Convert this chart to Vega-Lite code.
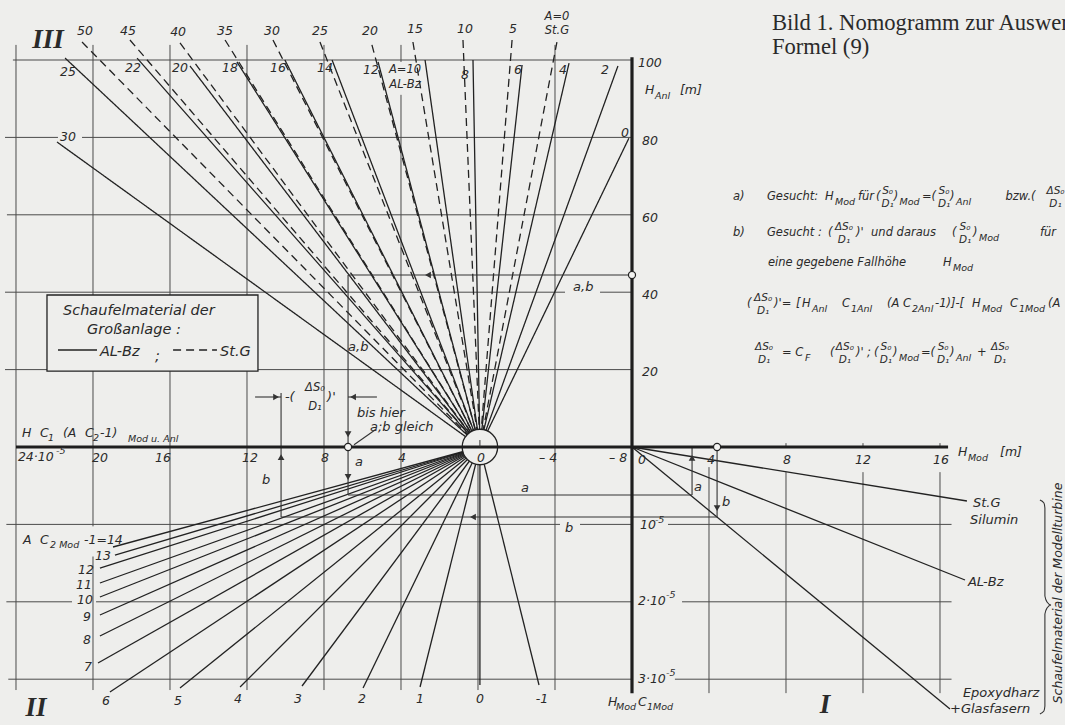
{
"$schema": "https://vega.github.io/schema/vega-lite/v6.json",
"width": 1065, "height": 725, "autosize": {"type": "none"}, "padding": 0,
"background": "#eeeeec",
"config": {"view": {"stroke": null}},
"datasets": {
"grid": [
{"x":-32.16,"x2":0,"y":100,"y2":100},
{"x":-32.57,"x2":-29.82,"y":80,"y2":80},
{"x":-28.57,"x2":0,"y":80,"y2":80},
{"x":-32.47,"x2":0,"y":60,"y2":60},
{"x":-32.57,"x2":-3.48,"y":40,"y2":40},
{"x":-1.66,"x2":0,"y":40,"y2":40},
{"x":-32.57,"x2":0,"y":20,"y2":20},
{"x":-32.5,"x2":-3.74,"y":-20,"y2":-20},
{"x":-2.7,"x2":0,"y":-20,"y2":-20},
{"x":1.87,"x2":16.6,"y":-20,"y2":-20},
{"x":-32.5,"x2":-29.09,"y":-40,"y2":-40},
{"x":-27.84,"x2":0,"y":-40,"y2":-40},
{"x":2.6,"x2":16.6,"y":-40,"y2":-40},
{"x":-32.4,"x2":0,"y":-60,"y2":-60},
{"x":2.23,"x2":16.6,"y":-60,"y2":-60},
{"x":-32,"x2":-32,"y":103.9,"y2":-62.8},
{"x":-28,"x2":-28,"y":103.9,"y2":-20.5},
{"x":-28,"x2":-28,"y":-28.3,"y2":-62.8},
{"x":-24,"x2":-24,"y":103.9,"y2":-62.8},
{"x":-20,"x2":-20,"y":103.9,"y2":-62.8},
{"x":-16,"x2":-16,"y":103.9,"y2":-62.8},
{"x":-12,"x2":-12,"y":103.9,"y2":99.5},
{"x":-12,"x2":-12,"y":91,"y2":-62.8},
{"x":-8,"x2":-8,"y":0,"y2":-62.8},
{"x":-4,"x2":-4,"y":103.9,"y2":-62.8},
{"x":4,"x2":4,"y":-5.2,"y2":-63.6},
{"x":8,"x2":8,"y":1.0,"y2":0},
{"x":8,"x2":8,"y":-6.5,"y2":-63.6},
{"x":12,"x2":12,"y":1.0,"y2":0},
{"x":12,"x2":12,"y":-6.5,"y2":-63.6},
{"x":16,"x2":16,"y":1.0,"y2":0},
{"x":16,"x2":16,"y":-6.5,"y2":-63.6}
],
"upperFan": [
{"A":30,"mat":"AL-Bz","x":-29.87,"y":78.81},
{"A":25,"mat":"AL-Bz","x":-29.45,"y":100.5},
{"A":22,"mat":"AL-Bz","x":-25.71,"y":100.5},
{"A":20,"mat":"AL-Bz","x":-22.96,"y":98.45},
{"A":18,"mat":"AL-Bz","x":-20.52,"y":99.5},
{"A":16,"mat":"AL-Bz","x":-18.03,"y":100},
{"A":14,"mat":"AL-Bz","x":-15.58,"y":100},
{"A":12,"mat":"AL-Bz","x":-13.19,"y":99.5},
{"A":10,"mat":"AL-Bz","x":-10.75,"y":100},
{"A":8,"mat":"AL-Bz","x":-8.26,"y":100},
{"A":6,"mat":"AL-Bz","x":-5.71,"y":98.7},
{"A":4,"mat":"AL-Bz","x":-3.27,"y":99.2},
{"A":2,"mat":"AL-Bz","x":-0.73,"y":98.45},
{"A":0,"mat":"AL-Bz","x":-0.16,"y":79.8},
{"A":50,"mat":"St.G","x":-28.57,"y":104.65},
{"A":45,"mat":"St.G","x":-26.08,"y":105.17},
{"A":40,"mat":"St.G","x":-23.48,"y":104.4},
{"A":35,"mat":"St.G","x":-21.14,"y":105.17},
{"A":30,"mat":"St.G","x":-18.65,"y":105.17},
{"A":25,"mat":"St.G","x":-16.21,"y":104.65},
{"A":20,"mat":"St.G","x":-13.51,"y":103.9},
{"A":15,"mat":"St.G","x":-11.38,"y":104.65},
{"A":10,"mat":"St.G","x":-8.78,"y":105.17},
{"A":5,"mat":"St.G","x":-6.23,"y":105.17},
{"A":0,"mat":"St.G","x":-3.9,"y":104.65}
],
"lowerFan": [
{"k":14,"x":-26.96,"y":-25.84},
{"k":13,"x":-26.86,"y":-27.91},
{"k":12,"x":-27.64,"y":-31.27},
{"k":11,"x":-27.64,"y":-35.14},
{"k":10,"x":-27.64,"y":-38.76},
{"k":9,"x":-27.64,"y":-43.41},
{"k":8,"x":-27.64,"y":-48.84},
{"k":7,"x":-27.74,"y":-55.81},
{"k":6,"x":-27.12,"y":-63.31},
{"k":5,"x":-23.48,"y":-62.27},
{"k":4,"x":-20.36,"y":-62.02},
{"k":3,"x":-17.14,"y":-61.76},
{"k":2,"x":-13.97,"y":-62.27},
{"k":1,"x":-11.01,"y":-62.02},
{"k":0,"x":-7.9,"y":-61.5},
{"k":-1,"x":-4.83,"y":-61.5}
],
"modelLines": [
{"mat":"St.G Silumin","x":17.4,"y":-13.95},
{"mat":"AL-Bz","x":17.3,"y":-34.37},
{"mat":"Epoxydharz +Glasfasern","x":16.52,"y":-67.7}
],
"paths": [
{"x":-14.75,"y":44.44,"x2":0,"y2":44.44},
{"x":-14.75,"y":44.44,"x2":-14.75,"y2":-12.4},
{"x":-14.75,"y":-12.4,"x2":3.12,"y2":-12.4},
{"x":3.12,"y":0,"x2":3.12,"y2":-12.4},
{"x":-18.23,"y":13.95,"x2":-18.23,"y2":-18.09},
{"x":-18.23,"y":-18.09,"x2":4.42,"y2":-18.09},
{"x":4.42,"y":0,"x2":4.42,"y2":-18.09},
{"x":-19.58,"y":12.92,"x2":-18.23,"y2":12.92},
{"x":-14.75,"y":12.92,"x2":-13.25,"y2":12.92},
{"x":-13.35,"y":4.39,"x2":-14.44,"y2":0.6}
],
"axes": [
{"x":-32.0,"y":0,"x2":16.42,"y2":0},
{"x":0,"y":100.7,"x2":0,"y2":-63.6}
],
"box": [{"x":-30.39,"y":39.28,"x2":-19.43,"y2":19.6}],
"legendKey": [
{"mat":"AL-Bz","x":-29.82,"x2":-27.79,"y":25.06,"y2":25.06},
{"mat":"St.G","x":-23.84,"x2":-21.56,"y":25.06,"y2":25.06}
],
"center": [{"x":-7.9,"y":0,"x2":-7.9,"y2":1.8}],
"markers": [{"x":-14.75,"y":0},{"x":0,"y":44.44},{"x":4.42,"y":0}],
"arrows": [
{"x":-10.6,"y":44.44,"d":"left"},
{"x":-14.75,"y":3.3,"d":"down"},
{"x":-14.75,"y":-7.75,"d":"down"},
{"x":-18.23,"y":-2.6,"d":"up"},
{"x":-8.26,"y":-18.09,"d":"left"},
{"x":3.12,"y":-2.8,"d":"up"},
{"x":4.42,"y":-15.8,"d":"down"},
{"x":-18.49,"y":12.92,"d":"right"},
{"x":-14.49,"y":12.92,"d":"left"}
],
"brace": [
{"o":1,"x":21.19,"y":-13.7},
{"o":2,"x":21.4,"y":-14.47},
{"o":3,"x":21.45,"y":-15.76},
{"o":4,"x":21.45,"y":-38.5},
{"o":5,"x":21.56,"y":-40.05},
{"o":6,"x":21.77,"y":-40.83},
{"o":7,"x":21.56,"y":-41.6},
{"o":8,"x":21.45,"y":-43.15},
{"o":9,"x":21.45,"y":-66.93},
{"o":10,"x":21.4,"y":-68.22},
{"o":11,"x":21.19,"y":-68.99}
],
"labels": [
{"t":"50","x":-28.42,"y":107.5,"g":"num"},
{"t":"45","x":-26.18,"y":107.5,"g":"num"},
{"t":"40","x":-23.58,"y":107.2,"g":"num"},
{"t":"35","x":-21.14,"y":107.5,"g":"num"},
{"t":"30","x":-18.7,"y":107.5,"g":"num"},
{"t":"25","x":-16.21,"y":107.5,"g":"num"},
{"t":"20","x":-13.61,"y":107.5,"g":"num"},
{"t":"15","x":-11.27,"y":108.0,"g":"num"},
{"t":"10","x":-8.68,"y":108.0,"g":"num"},
{"t":"5","x":-6.18,"y":108.0,"g":"num"},
{"t":"25","x":-29.3,"y":96.9,"g":"num"},
{"t":"22","x":-25.92,"y":97.9,"g":"num"},
{"t":"20","x":-23.48,"y":97.9,"g":"num"},
{"t":"18","x":-20.88,"y":97.9,"g":"num"},
{"t":"16","x":-18.39,"y":97.9,"g":"num"},
{"t":"14","x":-15.95,"y":97.9,"g":"num"},
{"t":"12","x":-13.56,"y":97.4,"g":"num"},
{"t":"8","x":-8.68,"y":96.1,"g":"num"},
{"t":"6","x":-5.92,"y":97.4,"g":"num"},
{"t":"4","x":-3.58,"y":97.4,"g":"num"},
{"t":"2","x":-1.4,"y":97.4,"g":"num"},
{"t":"0","x":-0.36,"y":81.1,"g":"num"},
{"t":"30","x":-29.3,"y":80.1,"g":"num"},
{"t":"20","x":-27.64,"y":-2.84,"g":"num"},
{"t":"16","x":-24.36,"y":-2.84,"g":"num"},
{"t":"12","x":-19.84,"y":-2.84,"g":"num"},
{"t":"8","x":-15.95,"y":-2.84,"g":"num"},
{"t":"4","x":-11.95,"y":-2.84,"g":"num"},
{"t":"0","x":-7.84,"y":-2.84,"g":"num"},
{"t":"– 4","x":-4.36,"y":-2.84,"g":"num"},
{"t":"– 8","x":-0.72,"y":-2.84,"g":"num"},
{"t":"0","x":0.52,"y":-3.36,"g":"num"},
{"t":"4","x":4.1,"y":-3.36,"g":"num"},
{"t":"8","x":8.05,"y":-3.36,"g":"num"},
{"t":"12","x":12.0,"y":-3.36,"g":"num"},
{"t":"16","x":16.05,"y":-3.36,"g":"num"},
{"t":"13","x":-27.48,"y":-28.17,"g":"num"},
{"t":"12","x":-28.36,"y":-31.78,"g":"num"},
{"t":"11","x":-28.47,"y":-35.66,"g":"num"},
{"t":"10","x":-28.42,"y":-39.53,"g":"num"},
{"t":"9","x":-28.31,"y":-43.93,"g":"num"},
{"t":"8","x":-28.31,"y":-49.87,"g":"num"},
{"t":"7","x":-28.26,"y":-56.85,"g":"num"},
{"t":"6","x":-27.32,"y":-65.6,"g":"num"},
{"t":"5","x":-23.58,"y":-65.6,"g":"num"},
{"t":"4","x":-20.47,"y":-65.1,"g":"num"},
{"t":"3","x":-17.35,"y":-65.1,"g":"num"},
{"t":"2","x":-14.03,"y":-65.1,"g":"num"},
{"t":"1","x":-11.01,"y":-65.1,"g":"num"},
{"t":"0","x":-7.9,"y":-65.1,"g":"num"},
{"t":"-1","x":-4.68,"y":-65.1,"g":"num"},
{"t":"A=0","x":-3.9,"y":111.1,"g":"small"},
{"t":"St.G","x":-3.9,"y":107.4,"g":"small"},
{"t":"A=10","x":-11.79,"y":97.4,"g":"small"},
{"t":"AL-Bz","x":-11.79,"y":93.5,"g":"small"},
{"t":"100","x":0.31,"y":99.2,"g":"numL"},
{"t":"80","x":0.52,"y":79.1,"g":"numL"},
{"t":"60","x":0.52,"y":59.2,"g":"numL"},
{"t":"40","x":0.52,"y":39.3,"g":"numL"},
{"t":"20","x":0.52,"y":19.4,"g":"numL"},
{"t":"H","x":0.68,"y":92.25,"g":"numL"},
{"t":"[m]","x":2.49,"y":92.25,"g":"numL"},
{"t":"H","x":16.94,"y":-1.29,"g":"numL"},
{"t":"[m]","x":19.12,"y":-1.29,"g":"numL"},
{"t":"H","x":-31.69,"y":3.62,"g":"numL"},
{"t":"C","x":-30.75,"y":3.62,"g":"numL"},
{"t":"(A","x":-29.56,"y":3.62,"g":"numL"},
{"t":"C","x":-28.42,"y":3.62,"g":"numL"},
{"t":"-1)","x":-27.64,"y":3.62,"g":"numL"},
{"t":"24·10","x":-31.9,"y":-2.58,"g":"numL"},
{"t":"A","x":-31.64,"y":-24.03,"g":"numL"},
{"t":"C","x":-30.75,"y":-24.03,"g":"numL"},
{"t":"-1=14","x":-28.47,"y":-24.03,"g":"numL"},
{"t":"H","x":-1.25,"y":-65.9,"g":"numL"},
{"t":"C","x":0.31,"y":-65.9,"g":"numL"},
{"t":"10","x":0.42,"y":-20.16,"g":"numL"},
{"t":"2·10","x":0.31,"y":-39.79,"g":"numL"},
{"t":"3·10","x":0.31,"y":-59.95,"g":"numL"},
{"t":"Anl","x":1.19,"y":90.7,"g":"sub"},
{"t":"Mod","x":17.45,"y":-2.84,"g":"sub"},
{"t":"1","x":-30.34,"y":2.33,"g":"sub"},
{"t":"2","x":-28.0,"y":2.33,"g":"sub"},
{"t":"Mod u. Anl","x":-26.18,"y":2.07,"g":"sub"},
{"t":"-5","x":-29.92,"y":-1.03,"g":"sub"},
{"t":"2 Mod","x":-30.23,"y":-25.32,"g":"sub"},
{"t":"Mod","x":-0.83,"y":-67.2,"g":"sub"},
{"t":"1Mod","x":0.78,"y":-67.2,"g":"sub"},
{"t":"-5","x":1.19,"y":-18.86,"g":"sub"},
{"t":"-5","x":1.77,"y":-38.24,"g":"sub"},
{"t":"-5","x":1.77,"y":-58.4,"g":"sub"},
{"t":"St.G","x":17.71,"y":-14.47,"g":"word"},
{"t":"Silumin","x":17.56,"y":-18.86,"g":"word"},
{"t":"AL-Bz","x":17.45,"y":-34.88,"g":"word"},
{"t":"Epoxydharz","x":17.19,"y":-63.57,"g":"word"},
{"t":"+Glasfasern","x":16.52,"y":-67.7,"g":"word"},
{"t":"a,b","x":-3.06,"y":41.34,"g":"word"},
{"t":"a,b","x":-14.75,"y":25.84,"g":"word"},
{"t":"bis hier","x":-14.29,"y":8.79,"g":"word"},
{"t":"a;b  gleich","x":-13.61,"y":5.17,"g":"word"},
{"t":"a","x":-14.39,"y":-3.88,"g":"word"},
{"t":"b","x":-19.22,"y":-8.53,"g":"word"},
{"t":"a","x":-5.77,"y":-10.6,"g":"word"},
{"t":"b","x":-3.48,"y":-20.9,"g":"word"},
{"t":"a","x":3.22,"y":-10.3,"g":"word"},
{"t":"b","x":4.68,"y":-14.2,"g":"word"},
{"t":"-(","x":-18.03,"y":12.92,"g":"word"},
{"t":")'","x":-15.84,"y":12.92,"g":"word"},
{"t":"ΔS₀","x":-16.47,"y":15.25,"g":"dfrac"},
{"t":"D₁","x":-16.47,"y":10.34,"g":"dfrac"},
{"t":"Schaufelmaterial der","x":-29.56,"y":35.14,"g":"legend"},
{"t":"Großanlage :","x":-28.31,"y":30.23,"g":"legend"},
{"t":"AL-Bz","x":-27.64,"y":24.55,"g":"legend"},
{"t":";","x":-24.78,"y":23.26,"g":"legend"},
{"t":"St.G","x":-21.4,"y":24.55,"g":"legend"},
{"t":"Bild 1. Nomogramm zur Auswertung der","x":7.27,"y":109.56,"g":"title"},
{"t":"Formel (9)","x":7.27,"y":103.36,"g":"title"},
{"t":"III","x":-30.34,"y":105.17,"g":"roman"},
{"t":"II","x":-30.96,"y":-67.44,"g":"roman"},
{"t":"I","x":10.03,"y":-66.67,"g":"roman"},
{"t":"Schaufelmaterial der Modellturbine","x":22.13,"y":-37.73,"g":"rot"},
{"t":"a)","x":5.25,"y":64.6,"g":"f"},
{"t":"Gesucht:","x":7.01,"y":64.6,"g":"f"},
{"t":"H","x":10.03,"y":64.6,"g":"f"},
{"t":"für","x":11.74,"y":64.6,"g":"f"},
{"t":"(","x":12.68,"y":64.6,"g":"f"},
{"t":")","x":13.6,"y":64.6,"g":"f"},
{"t":"=(","x":15.06,"y":64.6,"g":"f"},
{"t":")","x":16.52,"y":64.6,"g":"f"},
{"t":"bzw.(","x":19.4,"y":64.6,"g":"f"},
{"t":"b)","x":5.25,"y":55.3,"g":"f"},
{"t":"Gesucht :","x":7.01,"y":55.3,"g":"f"},
{"t":"(","x":10.18,"y":55.3,"g":"f"},
{"t":")'","x":11.64,"y":55.3,"g":"f"},
{"t":"und daraus","x":12.42,"y":55.3,"g":"f"},
{"t":"(","x":16.62,"y":55.3,"g":"f"},
{"t":")","x":17.71,"y":55.3,"g":"f"},
{"t":"für","x":21.19,"y":55.3,"g":"f"},
{"t":"eine gegebene  Fallhöhe","x":7.06,"y":47.55,"g":"f"},
{"t":"H","x":16.16,"y":47.55,"g":"f"},
{"t":"(","x":5.97,"y":36.95,"g":"f"},
{"t":")'=","x":7.38,"y":36.95,"g":"f"},
{"t":"[","x":8.52,"y":36.95,"g":"f"},
{"t":"H","x":8.83,"y":36.95,"g":"f"},
{"t":"C","x":10.91,"y":36.95,"g":"f"},
{"t":"(A C","x":13.25,"y":36.95,"g":"f"},
{"t":"-1)]-[","x":15.74,"y":36.95,"g":"f"},
{"t":"H","x":17.66,"y":36.95,"g":"f"},
{"t":"C","x":19.64,"y":36.95,"g":"f"},
{"t":"(A","x":21.61,"y":36.95,"g":"f"},
{"t":"= C","x":7.79,"y":24.29,"g":"f"},
{"t":"(","x":10.29,"y":24.29,"g":"f"},
{"t":")'","x":11.64,"y":24.29,"g":"f"},
{"t":";","x":12.21,"y":24.29,"g":"f"},
{"t":"(","x":12.57,"y":24.29,"g":"f"},
{"t":")","x":13.56,"y":24.29,"g":"f"},
{"t":"=(","x":15.01,"y":24.29,"g":"f"},
{"t":")","x":16.52,"y":24.29,"g":"f"},
{"t":"+","x":17.92,"y":24.29,"g":"f"},
{"t":"Mod","x":10.55,"y":63.31,"g":"fs"},
{"t":"Mod","x":13.9,"y":63.31,"g":"fs"},
{"t":"Anl","x":16.83,"y":63.31,"g":"fs"},
{"t":"Mod","x":18.03,"y":54.01,"g":"fs"},
{"t":"Mod","x":16.68,"y":46.25,"g":"fs"},
{"t":"Anl","x":9.35,"y":35.66,"g":"fs"},
{"t":"1Anl","x":11.38,"y":35.66,"g":"fs"},
{"t":"2Anl","x":14.55,"y":35.66,"g":"fs"},
{"t":"Mod","x":18.18,"y":35.66,"g":"fs"},
{"t":"1Mod","x":20.1,"y":35.66,"g":"fs"},
{"t":"F","x":8.99,"y":23.0,"g":"fs"},
{"t":"Mod","x":13.87,"y":23.0,"g":"fs"},
{"t":"Anl","x":16.83,"y":23.0,"g":"fs"},
{"t":"S₀","x":13.28,"y":66.15,"g":"fr"},
{"t":"D₁","x":13.28,"y":62.79,"g":"fr"},
{"t":"S₀","x":16.21,"y":66.15,"g":"fr"},
{"t":"D₁","x":16.21,"y":62.79,"g":"fr"},
{"t":"ΔS₀","x":22.0,"y":66.15,"g":"fr"},
{"t":"D₁","x":22.0,"y":62.79,"g":"fr"},
{"t":"ΔS₀","x":11.01,"y":56.85,"g":"fr"},
{"t":"D₁","x":11.01,"y":53.49,"g":"fr"},
{"t":"S₀","x":17.3,"y":56.85,"g":"fr"},
{"t":"D₁","x":17.3,"y":53.49,"g":"fr"},
{"t":"ΔS₀","x":6.81,"y":38.5,"g":"fr"},
{"t":"D₁","x":6.81,"y":35.14,"g":"fr"},
{"t":"ΔS₀","x":6.86,"y":25.84,"g":"fr"},
{"t":"D₁","x":6.86,"y":22.48,"g":"fr"},
{"t":"ΔS₀","x":11.06,"y":25.84,"g":"fr"},
{"t":"D₁","x":11.06,"y":22.48,"g":"fr"},
{"t":"S₀","x":13.19,"y":25.84,"g":"fr"},
{"t":"D₁","x":13.19,"y":22.48,"g":"fr"},
{"t":"S₀","x":16.16,"y":25.84,"g":"fr"},
{"t":"D₁","x":16.16,"y":22.48,"g":"fr"},
{"t":"ΔS₀","x":19.12,"y":25.84,"g":"fr"},
{"t":"D₁","x":19.12,"y":22.48,"g":"fr"}
]
},
"encoding": {
"x": {"field": "x", "type": "quantitative", "scale": {"domain": [-32.831, 22.494], "nice": false, "zero": false}, "axis": null},
"y": {"field": "y", "type": "quantitative", "scale": {"domain": [-71.835, 115.504], "nice": false, "zero": false}, "axis": null}
},
"layer": [
{"data": {"name": "grid"}, "mark": {"type": "rule", "color": "#4a4a4a", "strokeWidth": 1}, "encoding": {"x2": {"field": "x2"}, "y2": {"field": "y2"}}},
{"data": {"name": "upperFan"}, "mark": {"type": "rule", "color": "#222222", "strokeWidth": 1.3},
 "encoding": {"x2": {"datum": -7.9}, "y2": {"datum": 0},
  "strokeDash": {"field": "mat", "type": "nominal", "scale": {"domain": ["AL-Bz", "St.G"], "range": [[1, 0], [8, 5]]}, "legend": null}}},
{"data": {"name": "lowerFan"}, "mark": {"type": "rule", "color": "#222222", "strokeWidth": 1.3}, "encoding": {"x2": {"datum": -7.9}, "y2": {"datum": 0}}},
{"data": {"name": "modelLines"}, "mark": {"type": "rule", "color": "#222222", "strokeWidth": 1.3}, "encoding": {"x2": {"datum": 0}, "y2": {"datum": 0}}},
{"data": {"name": "paths"}, "mark": {"type": "rule", "color": "#333333", "strokeWidth": 1.1}, "encoding": {"x2": {"field": "x2"}, "y2": {"field": "y2"}}},
{"data": {"name": "box"}, "mark": {"type": "rect", "fill": "#eeeeec", "stroke": "#222222", "strokeWidth": 1.3}, "encoding": {"x2": {"field": "x2"}, "y2": {"field": "y2"}}},
{"data": {"name": "legendKey"}, "mark": {"type": "rule", "color": "#222222", "strokeWidth": 1.3},
 "encoding": {"x2": {"field": "x2"}, "y2": {"field": "y2"},
  "strokeDash": {"field": "mat", "type": "nominal", "scale": {"domain": ["AL-Bz", "St.G"], "range": [[1, 0], [8, 5]]}, "legend": null}}},
{"data": {"name": "center"}, "mark": {"type": "point", "shape": "circle", "size": 1257, "filled": true, "fill": "#eeeeec", "stroke": "#222222", "strokeWidth": 1.3, "opacity": 1}},
{"data": {"name": "axes"}, "mark": {"type": "rule", "color": "#1e1e1e", "strokeWidth": 3.2}, "encoding": {"x2": {"field": "x2"}, "y2": {"field": "y2"}}},
{"data": {"name": "center"}, "mark": {"type": "rule", "color": "#333333", "strokeWidth": 1}, "encoding": {"x2": {"field": "x2"}, "y2": {"field": "y2"}}},
{"data": {"name": "markers"}, "mark": {"type": "point", "shape": "circle", "size": 50, "filled": true, "fill": "#f4f4f2", "stroke": "#222222", "strokeWidth": 1.2, "opacity": 1}},
{"data": {"name": "arrows"}, "mark": {"type": "point", "filled": true, "size": 45, "color": "#333333", "opacity": 1},
 "encoding": {"shape": {"field": "d", "type": "nominal", "scale": {"domain": ["left", "right", "up", "down"], "range": ["triangle-left", "triangle-right", "triangle-up", "triangle-down"]}, "legend": null}}},
{"data": {"name": "brace"}, "mark": {"type": "line", "color": "#333333", "strokeWidth": 1.1, "interpolate": "monotone"}, "encoding": {"order": {"field": "o"}}},
{"data": {"name": "labels"}, "transform": [{"filter": "datum.g === 'num'"}], "mark": {"type": "text", "font": "DejaVu Sans", "fontStyle": "italic", "fontSize": 12.5, "align": "center", "baseline": "middle", "color": "#2a2a2a"}, "encoding": {"text": {"field": "t"}}},
{"data": {"name": "labels"}, "transform": [{"filter": "datum.g === 'small'"}], "mark": {"type": "text", "font": "DejaVu Sans", "fontStyle": "italic", "fontSize": 11.5, "align": "center", "baseline": "middle", "color": "#2a2a2a"}, "encoding": {"text": {"field": "t"}}},
{"data": {"name": "labels"}, "transform": [{"filter": "datum.g === 'numL'"}], "mark": {"type": "text", "font": "DejaVu Sans", "fontStyle": "italic", "fontSize": 12.5, "align": "left", "baseline": "middle", "color": "#2a2a2a"}, "encoding": {"text": {"field": "t"}}},
{"data": {"name": "labels"}, "transform": [{"filter": "datum.g === 'sub'"}], "mark": {"type": "text", "font": "DejaVu Sans", "fontStyle": "italic", "fontSize": 9.5, "align": "left", "baseline": "middle", "color": "#2a2a2a"}, "encoding": {"text": {"field": "t"}}},
{"data": {"name": "labels"}, "transform": [{"filter": "datum.g === 'word'"}], "mark": {"type": "text", "font": "DejaVu Sans", "fontStyle": "italic", "fontSize": 13, "align": "left", "baseline": "middle", "color": "#2a2a2a"}, "encoding": {"text": {"field": "t"}}},
{"data": {"name": "labels"}, "transform": [{"filter": "datum.g === 'dfrac'"}], "mark": {"type": "text", "font": "DejaVu Sans", "fontStyle": "italic", "fontSize": 11.5, "align": "center", "baseline": "middle", "color": "#2a2a2a"}, "encoding": {"text": {"field": "t"}}},
{"data": {"name": "labels"}, "transform": [{"filter": "datum.g === 'legend'"}], "mark": {"type": "text", "font": "DejaVu Sans", "fontStyle": "italic", "fontSize": 14.5, "align": "left", "baseline": "middle", "color": "#2a2a2a"}, "encoding": {"text": {"field": "t"}}},
{"data": {"name": "labels"}, "transform": [{"filter": "datum.g === 'f'"}], "mark": {"type": "text", "font": "DejaVu Sans", "fontStyle": "italic", "fontSize": 11.5, "align": "left", "baseline": "middle", "color": "#2a2a2a"}, "encoding": {"text": {"field": "t"}}},
{"data": {"name": "labels"}, "transform": [{"filter": "datum.g === 'fs'"}], "mark": {"type": "text", "font": "DejaVu Sans", "fontStyle": "italic", "fontSize": 9.5, "align": "left", "baseline": "middle", "color": "#2a2a2a"}, "encoding": {"text": {"field": "t"}}},
{"data": {"name": "labels"}, "transform": [{"filter": "datum.g === 'fr'"}], "mark": {"type": "text", "font": "DejaVu Sans", "fontStyle": "italic", "fontSize": 10.5, "align": "center", "baseline": "middle", "color": "#2a2a2a"}, "encoding": {"text": {"field": "t"}}},
{"data": {"name": "labels"}, "transform": [{"filter": "datum.g === 'title'"}], "mark": {"type": "text", "font": "Liberation Serif", "fontSize": 22.6, "align": "left", "baseline": "middle", "color": "#2a2a2a"}, "encoding": {"text": {"field": "t"}}},
{"data": {"name": "labels"}, "transform": [{"filter": "datum.g === 'roman'"}], "mark": {"type": "text", "font": "Liberation Serif", "fontStyle": "italic", "fontWeight": "bold", "fontSize": 27, "align": "center", "baseline": "middle", "color": "#2a2a2a"}, "encoding": {"text": {"field": "t"}}},
{"data": {"name": "labels"}, "transform": [{"filter": "datum.g === 'rot'"}], "mark": {"type": "text", "font": "DejaVu Sans", "fontStyle": "italic", "fontSize": 12.5, "align": "center", "baseline": "middle", "angle": 270, "color": "#2a2a2a"}, "encoding": {"text": {"field": "t"}}}
]
}
